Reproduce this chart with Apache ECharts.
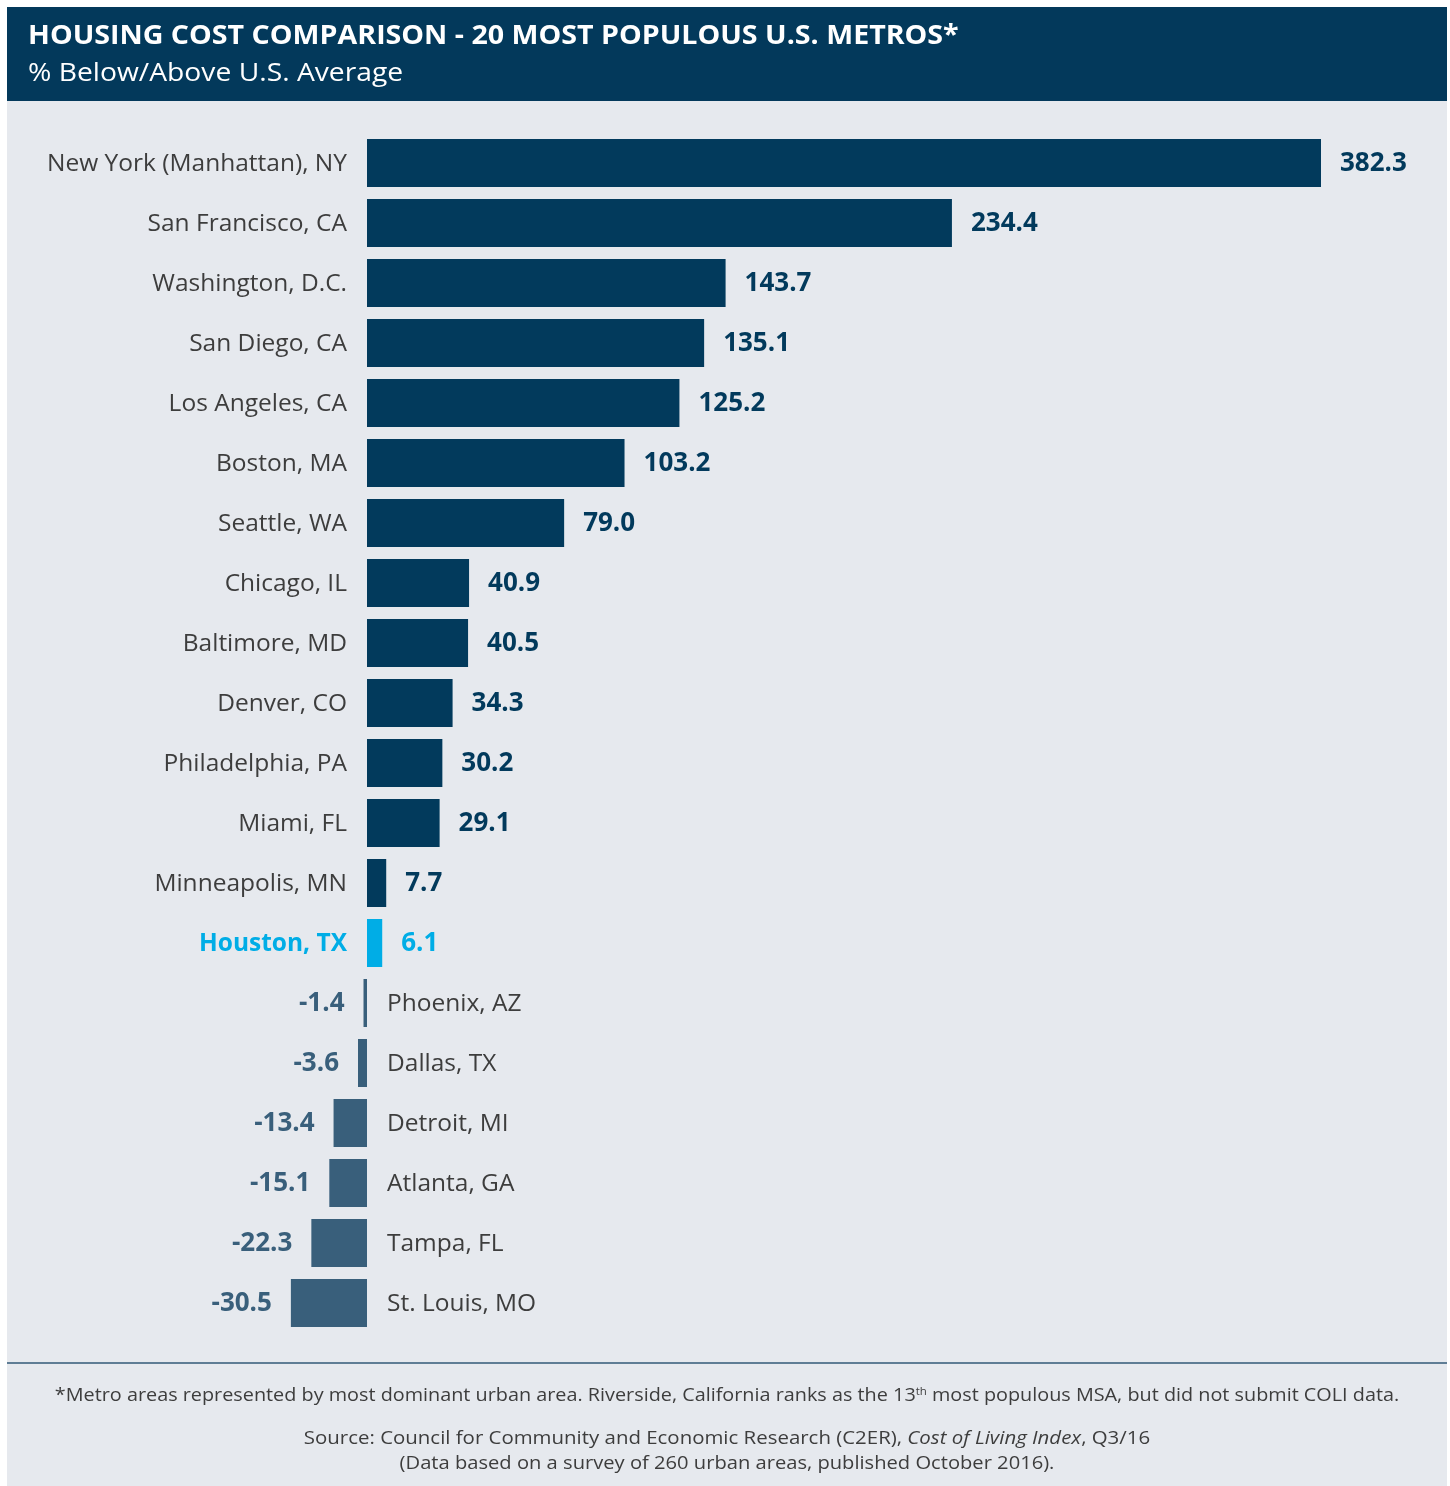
<!DOCTYPE html>
<html><head><meta charset="utf-8">
<script src="https://cdn.jsdelivr.net/npm/echarts@6/dist/echarts.min.js"></script>
<style>html,body{margin:0;padding:0;background:#fff}#c{width:1450px;height:1486px}</style>
</head><body><div id="c"></div>
<script>
const categories = ['New York (Manhattan), NY','San Francisco, CA','Washington, D.C.','San Diego, CA','Los Angeles, CA','Boston, MA','Seattle, WA','Chicago, IL','Baltimore, MD','Denver, CO','Philadelphia, PA','Miami, FL','Minneapolis, MN','Houston, TX','Phoenix, AZ','Dallas, TX','Detroit, MI','Atlanta, GA','Tampa, FL','St. Louis, MO'];
const values = [382.3, 234.4, 143.7, 135.1, 125.2, 103.2, 79.0, 40.9, 40.5, 34.3, 30.2, 29.1, 7.7, 6.1, -1.4, -3.6, -13.4, -15.1, -22.3, -30.5];
const highlight = 'Houston, TX';

const FONT = '"Open Sans", "Noto Sans", sans-serif';
const NAVY = '#023a5c', NEG = '#395f7b', HI = '#00ade6', TEXT = '#3d3d3d', BG = '#e6e9ee';
const zeroX = 367, pxPerUnit = 954 / 382.3;
const xMin = -50, xMax = 400;
const gridLeft = zeroX + xMin * pxPerUnit;
const gridWidth = (xMax - xMin) * pxPerUnit;

function barColor(name, v) { return name === highlight ? HI : (v >= 0 ? NAVY : NEG); }

const barData = values.map((v, i) => ({
  value: v,
  itemStyle: { color: barColor(categories[i], v) },
  label: { position: v >= 0 ? 'right' : 'left', color: barColor(categories[i], v) }
}));
const nameData = values.map((v, i) => ({
  value: v,
  label: {
    position: v >= 0 ? 'left' : 'right',
    color: categories[i] === highlight ? HI : TEXT,
    fontWeight: categories[i] === highlight ? 'bold' : 'normal'
  }
}));

function txt(x, y, text, font, sx, extra) {
  return Object.assign({ type: 'text', x: x, y: y, scaleX: sx, scaleY: 1,
    style: Object.assign({ text: text, font: font, fill: TEXT, verticalAlign: 'middle', textVerticalAlign: 'middle' }, extra || {}) });
}

const chart = echarts.init(document.getElementById('c'), null, { renderer: 'canvas' });
chart.setOption({
  animation: false,
  backgroundColor: '#ffffff',
  graphic: [
    { type: 'rect', z: -10, shape: { x: 7, y: 101, width: 1440, height: 1385 }, style: { fill: BG } },
    { type: 'rect', z: -10, shape: { x: 7, y: 7, width: 1440, height: 94 }, style: { fill: '#03395b' } },
    txt(28, 37, 'HOUSING COST COMPARISON - 20 MOST POPULOUS U.S. METROS*', 'bold 26px ' + FONT, 1.1, { fill: '#ffffff' }),
    txt(28, 74, '% Below/Above U.S. Average', '25px ' + FONT, 1.13, { fill: '#ffffff' }),
    { type: 'rect', shape: { x: 7, y: 1362, width: 1440, height: 2 }, style: { fill: '#5f7d95' } },
    txt(727, 1396, '*Metro areas represented by most dominant urban area. Riverside, California ranks as the 13{sup|th} most populous MSA, but did not submit COLI data.',
      '19px ' + FONT, 1.043, { align: 'center', textAlign: 'center',
        rich: { sup: { fontSize: 11, fontFamily: 'Open Sans', fill: TEXT, color: TEXT, verticalAlign: 'top', padding: [0, 0, 8, 0] } } }),
    txt(727, 1439, 'Source: Council for Community and Economic Research (C2ER), {i|Cost of Living Index}, Q3/16',
      '19px ' + FONT, 1.075, { align: 'center', textAlign: 'center',
        rich: { i: { fontSize: 19, fontStyle: 'italic', fontFamily: 'Open Sans', fill: TEXT, color: TEXT } } }),
    txt(727, 1464, '(Data based on a survey of 260 urban areas, published October 2016).',
      '19px ' + FONT, 1.06, { align: 'center', textAlign: 'center' })
  ],
  grid: { left: gridLeft, width: gridWidth, top: 133, height: 1200, containLabel: false },
  xAxis: { type: 'value', min: xMin, max: xMax, show: false, splitLine: { show: false } },
  yAxis: { type: 'category', data: categories, inverse: true, show: false },
  series: [
    {
      type: 'bar', barWidth: 48, data: barData, silent: true,
      label: { show: true, distance: 19, offset: [0, 1], fontFamily: FONT, fontSize: 26, fontWeight: 'bold',
        formatter: p => p.value.toFixed(1) }
    },
    {
      type: 'bar', barWidth: 48, barGap: '-100%', data: nameData, silent: true,
      itemStyle: { color: 'rgba(0,0,0,0)' },
      label: { show: true, distance: 20, offset: [0, 1.5], fontFamily: FONT, fontSize: 24.5,
        formatter: p => p.name }
    }
  ]
});
</script></body></html>
